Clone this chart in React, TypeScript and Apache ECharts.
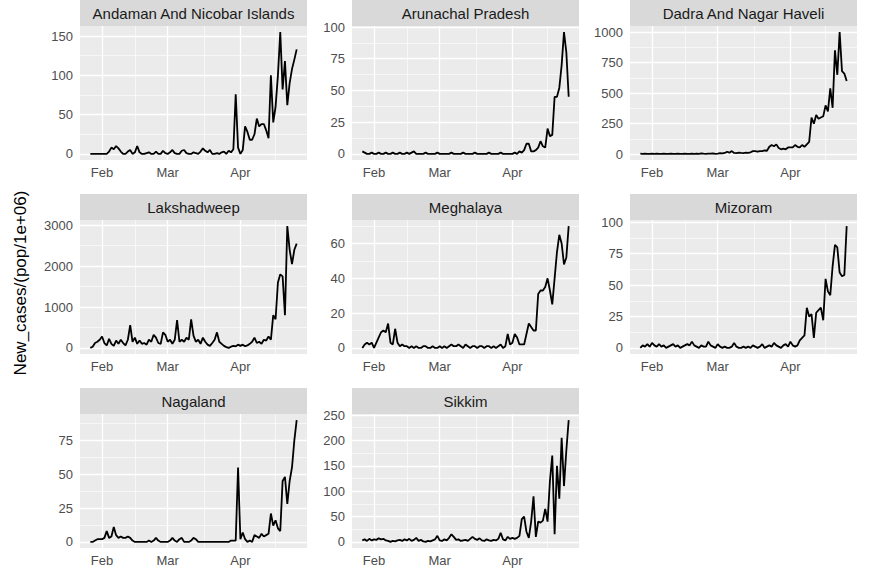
import React, { useEffect, useRef } from "react";
import * as echarts from "echarts";

// x = days relative to 1 Feb (Jan 27 = -5 ... Apr 25 = 83)
const FIRST_DAY = -5;
const MONTH_TICKS = [0, 28, 59];
const MONTH_LABELS = ["Feb", "Mar", "Apr"];
const MINOR_X = [14, 43.5, 74];

const STATES = [
  "Andaman And Nicobar Islands",
  "Arunachal Pradesh",
  "Dadra And Nagar Haveli",
  "Lakshadweep",
  "Meghalaya",
  "Mizoram",
  "Nagaland",
  "Sikkim",
];

const andaman = [
  0, 0, 0, 0, 0,
  0, 0, 0, 3, 8, 6, 10, 7, 3, 0,
  0, 3, 5, 0, 2, 10, 2, 0, 0, 1,
  2, 0, 0, 3, 0, 0, 4, 1, 0, 2,
  5, 1, 0, 0, 4, 5, 1, 0, 0, 2,
  1, 0, 3, 7, 4, 2, 5, 0, 0, 1,
  0, 2, 3, 0, 4, 2, 6, 76, 8, 0,
  5, 35, 28, 18, 18, 25, 45, 35, 38, 38,
  30, 20, 100, 40, 60, 100, 155, 82, 118, 62,
  90, 108, 120, 133,
];
const arunachal = [
  2, 1, 0, 0, 1,
  0, 0, 1, 0, 0, 1, 0, 0, 1, 0,
  0, 1, 0, 0, 1, 0, 1, 2, 0, 0,
  0, 0, 1, 0, 0, 0, 0, 1, 0, 0,
  0, 0, 0, 1, 0, 0, 0, 0, 1, 0,
  0, 0, 0, 1, 0, 0, 0, 0, 0, 1,
  0, 0, 0, 0, 1, 0, 0, 0, 0, 0,
  1, 0, 2, 1, 3, 8, 8, 2, 2, 3,
  5, 10, 6, 5, 20, 14, 15, 45, 45, 52,
  70, 96, 80, 45,
];
const dadra = [
  5, 3, 4, 2, 3,
  4, 3, 5, 2, 3, 4, 2, 3, 5, 3,
  2, 4, 3, 2, 5, 3, 2, 4, 3, 5,
  3, 6, 4, 3, 5, 4, 6, 3, 5, 8,
  6, 10, 20, 12, 25, 10, 8, 12, 10, 9,
  12, 10, 15, 25, 25, 20, 25, 25, 30, 28,
  60, 75, 65, 80, 50, 40, 45, 40, 55, 55,
  55, 75, 60, 55, 75, 60, 80, 100, 300, 250,
  320, 290, 300, 310, 400, 350, 540, 380, 850, 650,
  1000, 680, 660, 600,
];
const lakshadweep = [
  0, 30, 120, 150, 200,
  280, 120, 60, 220, 100, 50, 180, 100, 200, 120,
  60, 200, 560, 150, 250, 100, 180, 100, 120, 80,
  200, 150, 320, 250, 120, 100, 380, 320, 150, 200,
  100, 200, 680, 150, 200, 150, 250, 200, 700, 300,
  150, 200, 100, 250, 150, 80, 50, 120, 200, 380,
  150, 100, 50, 20, 0, 30, 50, 40, 80, 50,
  80, 40, 60, 100, 150, 250, 120, 150, 100, 200,
  180, 280, 200, 800, 700, 1600, 1800, 1750, 800, 2980,
  2400, 2050, 2400, 2550,
];
const meghalaya = [
  0, 2, 3, 2, 3,
  0, 3, 6, 9, 10, 9, 14, 3, 2, 11,
  3, 1, 2, 1, 1, 0, 1, 0, 1, 0,
  0, 1, 1, 0, 0, 1, 0, 0, 1, 0,
  1, 0, 1, 2, 1, 1, 2, 1, 0, 2,
  1, 0, 1, 1, 0, 1, 1, 0, 1, 1,
  0, 1, 0, 1, 2, 0, 1, 8, 2, 3,
  8, 6, 2, 2, 2, 8, 14, 12, 10, 10,
  31, 33, 33, 35, 40, 33, 25, 40, 55, 65,
  60, 48, 52, 70,
];
const mizoram = [
  0, 2, 1, 3, 1,
  4, 2, 1, 3, 1, 2, 0, 1, 2, 3,
  1, 2, 0, 1, 2, 3, 2, 5, 2, 1,
  0, 2, 1, 1, 5, 2, 1, 0, 3, 1,
  0, 1, 0, 0, 1, 4, 1, 0, 0, 1,
  0, 1, 0, 2, 1, 0, 1, 3, 0, 1,
  2, 1, 4, 2, 1, 0, 2, 3, 1, 5,
  2, 1, 2, 6, 8, 10, 32, 25, 27, 8,
  28, 30, 32, 22, 55, 45, 42, 65, 82, 80,
  60, 57, 58, 97,
];
const nagaland = [
  0, 0, 1, 2, 2,
  2, 3, 8, 3, 4, 11, 5, 3, 4, 3,
  3, 4, 3, 1, 0, 0, 0, 0, 0, 0,
  1, 0, 1, 3, 1, 0, 0, 0, 0, 1,
  3, 1, 0, 2, 3, 0, 0, 0, 1, 3,
  2, 0, 0, 0, 0, 0, 0, 0, 0, 0,
  0, 0, 0, 0, 0, 1, 1, 1, 55, 2,
  7, 2, 0, 1, 0, 5, 4, 3, 6, 4,
  5, 6, 21, 12, 16, 10, 8, 45, 48, 28,
  45, 55, 75, 90,
];
const sikkim = [
  3, 5, 2, 6, 3,
  5, 4, 7, 5, 6, 3, 2, 0, 2, 1,
  3, 4, 2, 5, 3, 6, 2, 4, 8, 2,
  4, 1, 0, 2, 1, 3, 5, 12, 3, 2,
  5, 3, 8, 15, 10, 4, 5, 2, 3, 4,
  2, 6, 10, 6, 4, 7, 3, 2, 5, 3,
  2, 4, 3, 6, 18, 5, 3, 10, 6, 8,
  6, 8, 12, 45, 50, 20, 8, 40, 90, 10,
  40, 38, 42, 65, 40, 120, 170, 15, 150, 85,
  205, 110, 180, 240,
];

const SERIES = [andaman, arunachal, dadra, lakshadweep, meghalaya, mizoram, nagaland, sikkim];

const Y_TICKS = [
  [0, 50, 100, 150],
  [0, 25, 50, 75, 100],
  [0, 250, 500, 750, 1000],
  [0, 1000, 2000, 3000],
  [0, 20, 40, 60],
  [0, 25, 50, 75, 100],
  [0, 25, 50, 75],
  [0, 50, 100, 150, 200, 250],
];

const Y_TITLE = "New_cases/(pop/1e+06)";

// layout
const COL_LEFT = [80, 352, 630];
const ROW_TOP = [26, 220, 414];
const PW = 227;
const PH = 134;
const STRIP_H = 26;
const FONT = "'Liberation Sans', Arial, Helvetica, sans-serif";

function buildOption() {
  const grids: any[] = [];
  const xAxes: any[] = [];
  const yAxes: any[] = [];
  const series: any[] = [];
  const graphics: any[] = [];

  const lastDay = FIRST_DAY + andaman.length - 1;
  const xPad = 0.05 * (lastDay - FIRST_DAY);
  const xmin = FIRST_DAY - xPad;
  const xmax = lastDay + xPad;

  STATES.forEach((name, i) => {
    const r = Math.floor(i / 3);
    const c = i % 3;
    const vals = SERIES[i];
    const lo = Math.min(...vals);
    const hi = Math.max(...vals);
    const pad = 0.05 * (hi - lo);
    const ymin = lo - pad;
    const ymax = hi + pad;
    const ticks = Y_TICKS[i];
    const step = ticks[1] - ticks[0];
    const minorY: number[] = [];
    for (let k = -1; k < ticks.length; k++) {
      const v = ticks[0] + step * (k + 0.5);
      if (v > ymin && v < ymax) minorY.push(v);
    }

    grids.push({
      left: COL_LEFT[c],
      top: ROW_TOP[r],
      width: PW,
      height: PH,
      show: true,
      backgroundColor: "#EBEBEB",
      borderWidth: 0,
    });

    xAxes.push({
      gridIndex: i,
      type: "value",
      min: xmin,
      max: xmax,
      axisLine: { show: false },
      splitLine: { show: false },
      axisTick: {
        show: true,
        customValues: MONTH_TICKS,
        length: 4,
        lineStyle: { color: "#333333", width: 1 },
      },
      axisLabel: {
        customValues: MONTH_TICKS,
        formatter: (v: number) => {
          const idx = MONTH_TICKS.indexOf(Math.round(v));
          return idx >= 0 ? MONTH_LABELS[idx] : "";
        },
        margin: 6,
        color: "#4D4D4D",
        fontSize: 13,
        fontFamily: FONT,
      },
    });

    yAxes.push({
      gridIndex: i,
      type: "value",
      min: ymin,
      max: ymax,
      axisLine: { show: false },
      splitLine: { show: false },
      axisTick: {
        show: true,
        customValues: ticks,
        length: 4,
        lineStyle: { color: "#333333", width: 1 },
      },
      axisLabel: {
        customValues: ticks,
        formatter: (v: number) => String(Math.round(v)),
        margin: 7,
        color: "#4D4D4D",
        fontSize: 13,
        fontFamily: FONT,
      },
    });

    const major = { color: "#FFFFFF", width: 1.3, type: "solid" };
    const minor = { color: "#FFFFFF", width: 0.6, type: "solid" };
    const markData: any[] = [
      ...minorY.map((v) => ({ yAxis: v, lineStyle: minor })),
      ...MINOR_X.map((v) => ({ xAxis: v, lineStyle: minor })),
      ...ticks.map((v) => ({ yAxis: v, lineStyle: major })),
      ...MONTH_TICKS.map((v) => ({ xAxis: v, lineStyle: major })),
    ];

    series.push({
      type: "line",
      xAxisIndex: i,
      yAxisIndex: i,
      data: vals.map((v, k) => [FIRST_DAY + k, v]),
      showSymbol: false,
      symbol: "none",
      z: 3,
      silent: true,
      lineStyle: { color: "#000000", width: 1.8 },
      markLine: {
        silent: true,
        z: 1,
        symbol: ["none", "none"],
        label: { show: false },
        emphasis: { disabled: true },
        animation: false,
        data: markData,
      },
    });

    graphics.push({
      type: "rect",
      shape: { x: COL_LEFT[c], y: ROW_TOP[r] - STRIP_H, width: PW, height: STRIP_H },
      style: { fill: "#D9D9D9" },
      silent: true,
    });
    graphics.push({
      type: "text",
      x: COL_LEFT[c] + PW / 2,
      y: ROW_TOP[r] - STRIP_H / 2,
      style: {
        text: name,
        fill: "#1A1A1A",
        fontSize: 15,
        fontFamily: FONT,
        align: "center",
        verticalAlign: "middle",
      },
      silent: true,
    });
  });

  graphics.push({
    type: "text",
    x: 20,
    y: (ROW_TOP[0] + ROW_TOP[2] + PH) / 2 - 4,
    rotation: Math.PI / 2,
    style: {
      text: Y_TITLE,
      fill: "#000000",
      fontSize: 17,
      fontFamily: FONT,
      align: "center",
      verticalAlign: "middle",
    },
    silent: true,
  });

  return {
    animation: false,
    backgroundColor: "#FFFFFF",
    grid: grids,
    xAxis: xAxes,
    yAxis: yAxes,
    series,
    graphic: graphics,
  };
}

export default function App() {
  const ref = useRef<HTMLDivElement>(null);
  useEffect(() => {
    if (!ref.current) return;
    const chart = echarts.init(ref.current, undefined, { renderer: "svg" });
    chart.setOption(buildOption() as any);
    return () => chart.dispose();
  }, []);
  return <div ref={ref} style={{ width: 871, height: 572, position: "absolute", left: 0, top: 0 }} />;
}
